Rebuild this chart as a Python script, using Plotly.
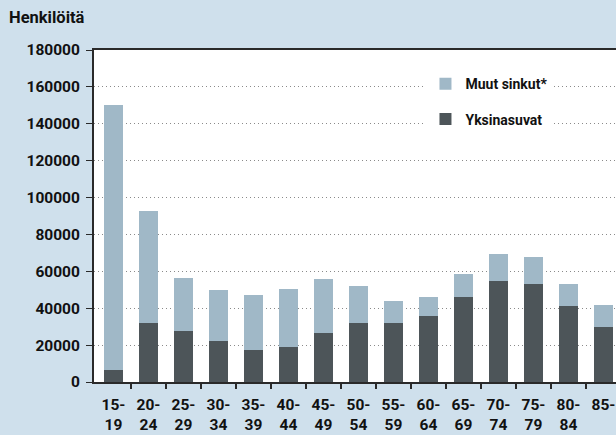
import plotly.graph_objects as go

age_groups = ["15-<br>19", "20-<br>24", "25-<br>29", "30-<br>34", "35-<br>39", "40-<br>44",
              "45-<br>49", "50-<br>54", "55-<br>59", "60-<br>64", "65-<br>69", "70-<br>74",
              "75-<br>79", "80-<br>84", "85-"]
yksinasuvat = [6300, 31800, 27400, 22500, 17100, 18800, 26400, 31800, 31800, 35600, 45900,
               54600, 53000, 41000, 29600]
totals = [150300, 92600, 56200, 49700, 47000, 50300, 55700, 51900, 43700, 45900, 58400,
          69300, 67600, 53000, 41600]
muut_sinkut = [t - y for t, y in zip(totals, yksinasuvat)]
y_ticks = [0, 20000, 40000, 60000, 80000, 100000, 120000, 140000, 160000, 180000]

FONT = "Roboto, Liberation Sans, sans-serif"
BG = "#cfe0ec"
LIGHT = "#a0b8c7"
DARK = "#4d5559"
AX = "#2a2a2a"
TXT = "#111111"

x = list(range(len(age_groups)))

fig = go.Figure()
fig.add_trace(go.Bar(x=x, y=yksinasuvat, name="Yksinasuvat", marker_color=DARK,
                     marker_line_width=0, legendgroup="a", legendrank=2, hoverinfo="skip"))
fig.add_trace(go.Bar(x=x, y=muut_sinkut, name="Muut sinkut*", marker_color=LIGHT,
                     marker_line_width=0, legendgroup="b", legendrank=1, hoverinfo="skip"))

fig.update_layout(
    width=616, height=435,
    barmode="stack", bargap=0.46,
    paper_bgcolor=BG, plot_bgcolor="white",
    margin=dict(l=94, r=0, t=50, b=53, autoexpand=False),
    font=dict(family=FONT, size=15, color=TXT, weight="bold"),
    title=dict(text="Henkilöitä", x=9/616, xanchor="left", xref="container",
               y=1 - 11/435, yanchor="top", yref="container",
               font=dict(family=FONT, size=16.5, color=TXT, weight="bold")),
    legend=dict(x=0.635, y=0.945, xanchor="left", yanchor="top",
                bgcolor="white", borderwidth=0,
                traceorder="grouped", tracegroupgap=14,
                font=dict(family=FONT, size=14, color=TXT, weight="bold")),
    xaxis=dict(range=[-0.557, 14.357], tickmode="array", tickvals=x,
               ticktext=age_groups, automargin=False,
               ticks="", showgrid=False, zeroline=False,
               showline=True, linecolor=AX, linewidth=2, mirror=True,
               ticklabelstandoff=7,
               tickfont=dict(family=FONT, size=15.5, color=TXT, weight="bold"),
               minor=dict(tickmode="array", tickvals=[i + 0.5 for i in x],
                          ticks="outside", ticklen=5, tickwidth=2, tickcolor=AX,
                          showgrid=False)),
    yaxis=dict(range=[0, 180000], tickmode="array", tickvals=y_ticks,
               ticktext=[str(v) for v in y_ticks], automargin=False,
               ticks="outside", ticklen=6, tickwidth=1, tickcolor=AX,
               showline=True, linecolor=AX, linewidth=2,
               showgrid=True, gridcolor="#8a8a8a", gridwidth=1, griddash="1px,3px",
               zeroline=False, ticklabelstandoff=3,
               tickfont=dict(family=FONT, size=15.5, color=TXT, weight="bold")),
)

fig.write_html("out.html", config={"displayModeBar": False},
               post_script="document.body.style.margin='0';")
